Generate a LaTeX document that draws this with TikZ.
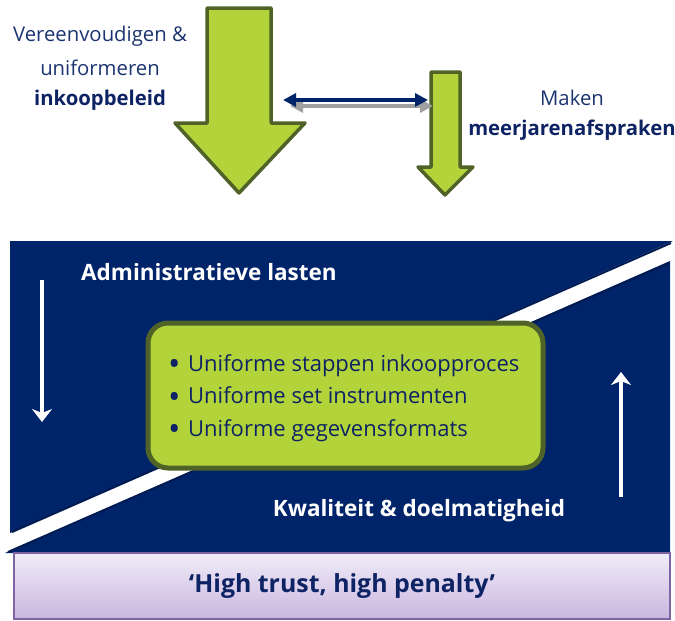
\documentclass[tikz,border=0pt]{standalone}
\usepackage{fontspec}
\setmainfont{Open Sans}
\usetikzlibrary{arrows.meta}
\definecolor{navy}{HTML}{002469}
\definecolor{navyshadow}{HTML}{001A52}
\definecolor{txtblue}{HTML}{1B3470}
\definecolor{txtdark}{HTML}{0E2363}
\definecolor{lime}{HTML}{B2D33A}
\definecolor{olive}{HTML}{4F6228}
\definecolor{lavtop}{HTML}{F0ECF8}
\definecolor{lavbot}{HTML}{CAB6DF}
\definecolor{lavedge}{HTML}{8064A2}
\definecolor{shad}{HTML}{A0A0A0}
\newcommand\mybul{\makebox[20pt][l]{\raisebox{-4.5pt}{\scalebox{1.5}{\textbullet}}}}
\begin{document}
\begin{tikzpicture}[x=1pt,y=-1pt,
  greenarrow/.style={fill=lime,draw=olive,line width=3.5pt,line join=round},
  toptext/.style={text=txtblue,font=\fontsize{20.3}{24}\selectfont,inner sep=0pt},
  topbold/.style={text=txtdark,font=\fontsize{20.3}{24}\selectfont\bfseries,inner sep=0pt},
  whitebold/.style={text=white,font=\fontsize{22.5}{26}\selectfont\bfseries,inner sep=0pt},
  whitearrow/.style={draw=white,line width=4.5pt,-{Stealth[length=13pt,width=20pt,inset=4pt]}},
  dblarrow/.style={line width=3.5pt,{Triangle[length=13pt,width=13pt]}-{Triangle[length=13pt,width=13pt]}},
  bullettext/.style={text=txtdark,font=\fontsize{22}{32.5}\selectfont,align=left,inner sep=0pt},
  greenbox/.style={fill=lime,draw=olive,line width=5pt,rounded corners=20pt},
  trustbox/.style={draw=lavedge,line width=1.5pt,top color=lavtop,bottom color=lavbot,
    minimum width=656pt,minimum height=66pt,inner sep=0pt,
    text=txtdark,font=\fontsize{24.9}{28}\selectfont\bfseries}
]
\useasboundingbox (0,0) rectangle (675,621);

% top arrows
\draw[greenarrow] (207,8) -- (271,8) -- (271,123) -- (305,123) -- (239,193) -- (175,123) -- (207,123) -- cycle;
\draw[greenarrow] (431,72) -- (460,72) -- (460,167) -- (473,167) -- (445,195) -- (418,167) -- (431,167) -- cycle;

\coordinate (bigR) at (283,100);
\coordinate (smallL) at (428,100);
\coordinate (bigRs) at (290,106);
\coordinate (smallLs) at (433,106);
\draw[dblarrow,draw=shad,fill=shad] (bigRs) -- (smallLs);
\draw[dblarrow,draw=navy,fill=navy] (bigR) -- (smallL);

% top texts
\node[toptext] (t1) at (100,36) {Vereenvoudigen \&};
\node[toptext] (t2) at (100,68) {uniformeren};
\node[topbold] (t3) at (100,100) {inkoopbeleid};
\node[toptext] (t4) at (572,98) {Maken};
\node[topbold] (t5) at (572,130) {meerjarenafspraken};

% blue regions
\fill[navy] (10,241) -- (673,241) -- (10,533) -- cycle;
\fill[navy] (670,261) -- (670,553) -- (5,553) -- cycle;
\draw[navyshadow,line width=2pt] (671,243) -- (12,532);
\draw[navyshadow,line width=2pt] (669,263) -- (8,552);

% white arrows
\coordinate (la1) at (42,280);
\coordinate (la2) at (42,422);
\coordinate (ra1) at (621,497);
\coordinate (ra2) at (621,372);
\draw[whitearrow] (la1) -- (la2);
\draw[whitearrow] (ra1) -- (ra2);

\node[whitebold] (adm) at (209,272) {Administratieve lasten};
\node[whitebold] (kwal) at (419,511) {Kwaliteit \& doelmatigheid};

% green box
\draw[greenbox] (148,323) rectangle (543,468);
\node[bullettext,anchor=west] (list) at (168,398) {\mybul Uniforme stappen inkoopproces\\
\mybul Uniforme set instrumenten\\
\mybul Uniforme gegevensformats};

% bottom box
\node[trustbox] (trust) at (342,586) {‘High trust, high penalty’};
\end{tikzpicture}
\end{document}
